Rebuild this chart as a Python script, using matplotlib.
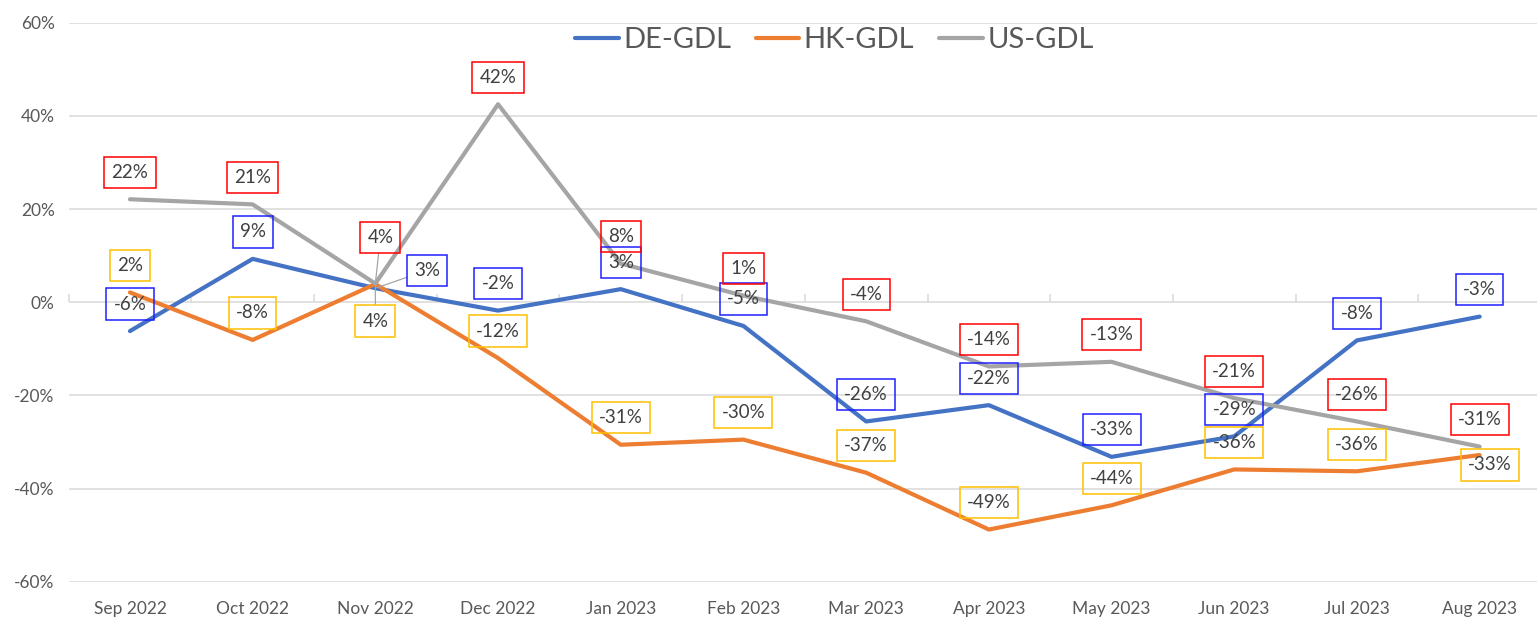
import matplotlib.pyplot as plt
from matplotlib.ticker import PercentFormatter

plt.rcParams['font.family'] = ['Lato', 'DejaVu Sans']
plt.rcParams['axes.unicode_minus'] = False

months = ['Sep 2022', 'Oct 2022', 'Nov 2022', 'Dec 2022', 'Jan 2023', 'Feb 2023',
          'Mar 2023', 'Apr 2023', 'May 2023', 'Jun 2023', 'Jul 2023', 'Aug 2023']
de_gdl = [-6.2, 9.3, 3.0, -1.8, 2.8, -5.1, -25.6, -22.1, -33.2, -28.8, -8.2, -3.1]
hk_gdl = [2.1, -8.1, 3.9, -12.0, -30.6, -29.5, -36.6, -48.8, -43.6, -35.9, -36.3, -32.8]
us_gdl = [22.1, 21.0, 4.0, 42.5, 8.3, 1.4, -4.1, -13.8, -12.8, -20.6, -25.6, -31.0]

# label offsets in pixels (dx, dy); most sit just above the point
lift = 27
de_off = [(0, lift)] * 12
hk_off = [(0, lift)] * 12
us_off = [(0, lift)] * 12
de_off[2] = (52, 18)
hk_off[2] = (0, -37)
us_off[2] = (5, 46)
hk_off[11] = (10, -10)

series = [
    ('DE-GDL', de_gdl, '#4472C4', '#1F1FFF', de_off),
    ('HK-GDL', hk_gdl, '#ED7D31', '#FFC000', hk_off),
    ('US-GDL', us_gdl, '#A5A5A5', '#FF0000', us_off),
]

fig = plt.figure(figsize=(15.37, 6.17), dpi=100)
ax = fig.add_axes([68.6 / 1537, (617 - 581.7) / 617, (1541 - 68.6) / 1537, 559 / 617])

x = list(range(len(months)))
for name, vals, col, box_col, offs in series:
    ax.plot(x, vals, color=col, lw=3, label=name, solid_capstyle='round', zorder=3)

for name, vals, col, box_col, offs in series:
    for i, v in enumerate(vals):
        dx, dy = offs[i]
        arrow = None
        if i == 2:
            arrow = dict(arrowstyle='-', color='#A6A6A6', lw=0.9, shrinkA=0, shrinkB=1)
        ax.annotate(f'{v:.0f}%', xy=(i, v), xytext=(dx, dy), textcoords='offset pixels',
                    ha='center', va='center', fontsize=13.5, color='#404040',
                    bbox=dict(boxstyle='square,pad=0.38', fc='none', ec=box_col, lw=1.1),
                    arrowprops=arrow, zorder=4)

ax.set_xlim(-0.5, len(months) - 0.5)
ax.set_ylim(-60, 60)
ax.set_yticks(range(-60, 61, 20))
ax.yaxis.set_major_formatter(PercentFormatter(decimals=0))
ax.grid(axis='y', color='#D9D9D9', lw=1.1)
ax.set_axisbelow(True)
for s in ax.spines.values():
    s.set_visible(False)

ax.set_xticks(x)
ax.set_xticklabels(months)
ax.tick_params(axis='x', length=0, pad=14, labelsize=12.5, labelcolor='#595959')
ax.tick_params(axis='y', length=0, pad=10, labelsize=12.5, labelcolor='#595959')

# tick marks between months hanging off the 0% line
zero_ax = ax.secondary_xaxis(0.5)
zero_ax.set_xticks([i - 0.5 for i in range(len(months) + 1)])
zero_ax.set_xticklabels([])
zero_ax.tick_params(direction='out', length=6, color='#D9D9D9', width=1.1)
for s in zero_ax.spines.values():
    s.set_visible(False)

leg = ax.legend(loc='center', bbox_to_anchor=(0.52, 0.969), ncol=3, frameon=False,
                fontsize=21, handlelength=1.5, handletextpad=0.15, columnspacing=0.85)
for t in leg.get_texts():
    t.set_color('#595959')

fig.savefig('out.png', dpi=100)
